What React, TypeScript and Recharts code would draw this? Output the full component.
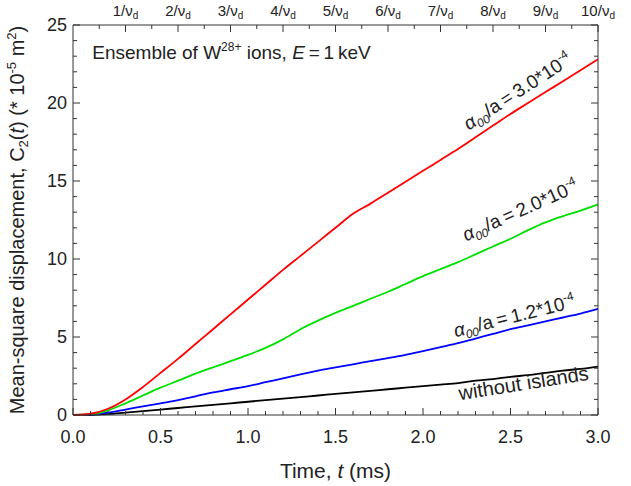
import React from "react";
import { LineChart, Line, XAxis, YAxis, ReferenceDot } from "recharts";

// Time (ms) and mean-square displacement C2(t) in units of 1e-5 m^2
const time = [0, 0.1, 0.2, 0.3, 0.4, 0.5, 0.6, 0.7, 0.8, 0.9, 1.0, 1.1, 1.2, 1.3, 1.4, 1.5, 1.6, 1.7, 1.8, 1.9, 2.0, 2.1, 2.2, 2.3, 2.4, 2.5, 2.6, 2.7, 2.8, 2.9, 3.0];
const red = [0, 0.08, 0.4, 1.0, 1.8, 2.7, 3.6, 4.55, 5.5, 6.45, 7.4, 8.35, 9.3, 10.2, 11.1, 12.0, 12.9, 13.55, 14.25, 14.95, 15.65, 16.35, 17.05, 17.8, 18.55, 19.3, 20.0, 20.7, 21.4, 22.1, 22.8];
const green = [0, 0.05, 0.3, 0.75, 1.25, 1.75, 2.2, 2.65, 3.05, 3.45, 3.85, 4.3, 4.85, 5.5, 6.05, 6.55, 7.0, 7.45, 7.9, 8.4, 8.9, 9.35, 9.8, 10.3, 10.8, 11.3, 11.85, 12.35, 12.75, 13.1, 13.5];
const blue = [0, 0.02, 0.15, 0.35, 0.55, 0.75, 0.95, 1.2, 1.45, 1.65, 1.85, 2.1, 2.35, 2.6, 2.85, 3.05, 3.25, 3.45, 3.65, 3.85, 4.1, 4.35, 4.6, 4.9, 5.2, 5.5, 5.75, 6.0, 6.25, 6.5, 6.8];
const black = [0, 0.0, 0.05, 0.15, 0.25, 0.35, 0.45, 0.55, 0.65, 0.75, 0.85, 0.95, 1.05, 1.15, 1.25, 1.35, 1.45, 1.55, 1.65, 1.75, 1.85, 1.95, 2.05, 2.2, 2.3, 2.45, 2.55, 2.7, 2.85, 2.95, 3.1];

const bottomTicks = [0, 0.1, 0.2, 0.3, 0.4, 0.5, 0.6, 0.7, 0.8, 0.9, 1.0, 1.1, 1.2, 1.3, 1.4, 1.5, 1.6, 1.7, 1.8, 1.9, 2.0, 2.1, 2.2, 2.3, 2.4, 2.5, 2.6, 2.7, 2.8, 2.9, 3.0];
const leftTicks = [0, 1, 2, 3, 4, 5, 6, 7, 8, 9, 10, 11, 12, 13, 14, 15, 16, 17, 18, 19, 20, 21, 22, 23, 24, 25];
const topTicks = [0.15, 0.3, 0.45, 0.6, 0.75, 0.9, 1.05, 1.2, 1.35, 1.5, 1.65, 1.8, 1.95, 2.1, 2.25, 2.4, 2.55, 2.7, 2.85, 3.0];
const topLabels = ["1", "2", "3", "4", "5", "6", "7", "8", "9", "10"];
const islandLabels = ["3.0", "2.0", "1.2"];

const data = time.map((t, i) => ({ t, red: red[i], green: green[i], blue: blue[i], black: black[i] }));

const FONT = "'Liberation Sans', Arial, Helvetica, sans-serif";
const AXIS = "#333";
const TEXT = "#222";

function BottomTick({ x, y, payload }: any) {
  const v = payload.value;
  const major = Math.round(v * 10) % 5 === 0;
  return (
    <g>
      <line x1={x} x2={x} y1={y} y2={y - (major ? 7 : 4)} stroke={AXIS} />
      {major && (
        <text x={x} y={y + 28} textAnchor="middle" fontSize={18} fill={TEXT} fontFamily={FONT}>
          {v.toFixed(1)}
        </text>
      )}
    </g>
  );
}

function LeftTick({ x, y, payload }: any) {
  const v = payload.value;
  const major = v % 5 === 0;
  return (
    <g>
      <line x1={x} x2={x + (major ? 7 : 4)} y1={y} y2={y} stroke={AXIS} />
      {major && (
        <text x={x - 6} y={y + 6} textAnchor="end" fontSize={18} fill={TEXT} fontFamily={FONT}>
          {v}
        </text>
      )}
    </g>
  );
}

function RightTick({ x, y, payload }: any) {
  const major = payload.value % 5 === 0;
  return <line x1={x} x2={x - (major ? 7 : 4)} y1={y} y2={y} stroke={AXIS} />;
}

function TopTick({ x, y, payload }: any) {
  const k = Math.round(payload.value / 0.15);
  const major = k % 2 === 0;
  return (
    <g>
      <line x1={x} x2={x} y1={y} y2={y + (major ? 7 : 4)} stroke={AXIS} />
      {major && (
        <text x={x} y={y - 9} textAnchor="middle" fontSize={15} fill={TEXT} fontFamily={FONT}>
          {topLabels[k / 2 - 1]}/ν<tspan fontSize={10} dy={3}>d</tspan>
        </text>
      )}
    </g>
  );
}

function alphaLabel(value: string, angle: number) {
  return (p: any) => (
    <text
      x={p.cx}
      y={p.cy}
      transform={`rotate(${angle} ${p.cx} ${p.cy})`}
      textAnchor="middle"
      fontSize={19}
      fill={TEXT}
      fontFamily={FONT}
    >
      <tspan fontStyle="italic">α</tspan>
      <tspan fontSize={12} dy={4} fontStyle="italic">00</tspan>
      <tspan dy={-4}>/a{"\u2009=\u2009"}{value}*10</tspan>
      <tspan fontSize={12} dy={-8}>-4</tspan>
    </text>
  );
}

function plainLabel(txt: string, angle: number) {
  return (p: any) => (
    <text
      x={p.cx}
      y={p.cy}
      transform={`rotate(${angle} ${p.cx} ${p.cy})`}
      textAnchor="middle"
      fontSize={20}
      fill={TEXT}
      fontFamily={FONT}
    >
      {txt}
    </text>
  );
}

export default function App() {
  return (
    <div style={{ position: "absolute", left: 0, top: 0, background: "#fff" }}>
      <LineChart width={631} height={486} data={data} margin={{ top: 0, right: 0, bottom: 0, left: 0 }}>
        <XAxis
          xAxisId="b"
          dataKey="t"
          type="number"
          domain={[0, 3]}
          ticks={bottomTicks}
          interval={0}
          height={71}
          tickSize={0}
          tickMargin={0}
          tickLine={false}
          axisLine={{ stroke: AXIS }}
          tick={<BottomTick />}
          label={{
            content: (p: any) => (
              <text
                x={p.viewBox.x + p.viewBox.width / 2}
                y={p.viewBox.y + 63}
                textAnchor="middle"
                fontSize={21}
                fill={TEXT}
                fontFamily={FONT}
              >
                Time, <tspan fontStyle="italic">t</tspan> (ms)
              </text>
            ),
          }}
        />
        <XAxis
          xAxisId="t"
          orientation="top"
          dataKey="t"
          type="number"
          domain={[0, 3]}
          ticks={topTicks}
          interval={0}
          height={25}
          tickSize={0}
          tickMargin={0}
          tickLine={false}
          axisLine={{ stroke: AXIS }}
          tick={<TopTick />}
        />
        <YAxis
          yAxisId="l"
          type="number"
          domain={[0, 25]}
          ticks={leftTicks}
          interval={0}
          width={73}
          tickSize={0}
          tickMargin={0}
          tickLine={false}
          axisLine={{ stroke: AXIS }}
          tick={<LeftTick />}
          label={{
            content: (p: any) => {
              const cx = p.viewBox.x + 24;
              const cy = p.viewBox.y + p.viewBox.height / 2;
              return (
                <text
                  x={cx}
                  y={cy}
                  transform={`rotate(-90 ${cx} ${cy})`}
                  textAnchor="middle"
                  fontSize={20}
                  fill={TEXT}
                  fontFamily={FONT}
                >
                  Mean-square displacement, C<tspan fontSize={13} dy={4}>2</tspan>
                  <tspan dy={-4}>(</tspan>
                  <tspan fontStyle="italic">t</tspan>) (* 10
                  <tspan fontSize={13} dy={-8}>-5</tspan>
                  <tspan dy={8}> m</tspan>
                  <tspan fontSize={13} dy={-8}>2</tspan>
                  <tspan dy={8}>)</tspan>
                </text>
              );
            },
          }}
        />
        <YAxis
          yAxisId="r"
          orientation="right"
          type="number"
          domain={[0, 25]}
          ticks={leftTicks}
          interval={0}
          width={33}
          tickSize={0}
          tickMargin={0}
          tickLine={false}
          axisLine={{ stroke: AXIS }}
          tick={<RightTick />}
        />

        <Line xAxisId="t" yAxisId="r" dataKey="black" stroke="#000" strokeWidth={1.8} dot={false} type="monotone" isAnimationActive={false} />
        <Line xAxisId="b" yAxisId="l" dataKey="blue" stroke="#0000ff" strokeWidth={1.8} dot={false} type="monotone" isAnimationActive={false} />
        <Line xAxisId="b" yAxisId="l" dataKey="green" stroke="#00e000" strokeWidth={1.8} dot={false} type="monotone" isAnimationActive={false} />
        <Line xAxisId="b" yAxisId="l" dataKey="red" stroke="#ff0000" strokeWidth={1.8} dot={false} type="monotone" isAnimationActive={false} />

        {/* Header annotation, anchored at the upper-left of the plot */}
        <ReferenceDot
          xAxisId="b"
          yAxisId="l"
          x={0.11}
          y={22.8}
          r={0}
          shape={(p: any) => (
            <text x={p.cx} y={p.cy} fontSize={19} fill={TEXT} fontFamily={FONT}>
              Ensemble of W<tspan fontSize={12} dy={-8}>28+</tspan>
              <tspan dy={8}> ions, </tspan>
              <tspan fontStyle="italic">E</tspan>{"\u2009=\u2009"}1{"\u2009"}keV
            </text>
          )}
        />

        <ReferenceDot xAxisId="b" yAxisId="l" x={2.56} y={20.4} r={0} shape={alphaLabel(islandLabels[0], -33)} />
        <ReferenceDot xAxisId="b" yAxisId="l" x={2.57} y={12.75} r={0} shape={alphaLabel(islandLabels[1], -24)} />
        <ReferenceDot xAxisId="b" yAxisId="l" x={2.53} y={5.95} r={0} shape={alphaLabel(islandLabels[2], -14)} />
        <ReferenceDot xAxisId="b" yAxisId="l" x={2.58} y={1.6} r={0} shape={plainLabel("without islands", -9)} />
      </LineChart>
    </div>
  );
}
